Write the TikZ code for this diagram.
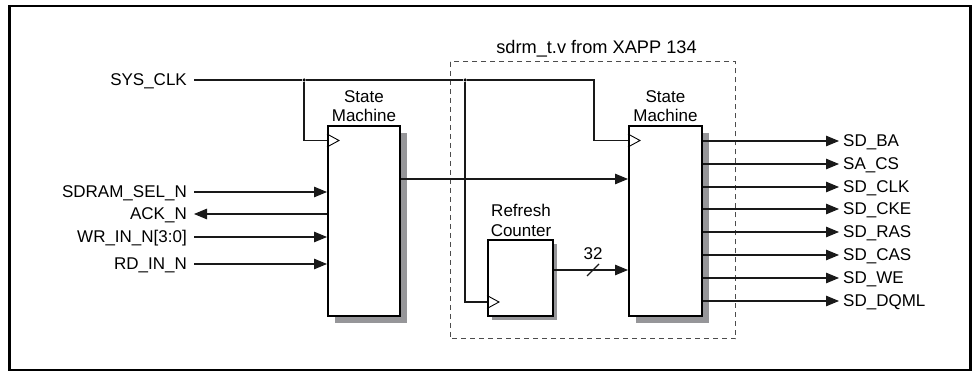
\documentclass[tikz,border=0pt]{standalone}
\usepackage{fontspec}
\setmainfont{Liberation Sans}
\usetikzlibrary{arrows.meta,shadows}
\definecolor{shd}{RGB}{150,150,153}
\begin{document}
\begin{tikzpicture}[x=1pt,y=-1pt,
  lbl/.style={inner sep=0pt, font=\fontsize{17}{20}\selectfont},
  box/.style={draw=black, line width=2pt, fill=white, inner sep=0pt,
    general shadow={fill=shd, shadow xshift=7pt, shadow yshift=-7pt}},
  sbox/.style={draw=black, line width=2pt, fill=white, inner sep=0pt,
    general shadow={fill=shd, shadow xshift=4pt, shadow yshift=-4pt}},
  wire/.style={line width=1.1pt, draw=black!90},
  arr/.style={wire, -{Triangle[length=13pt,width=10.5pt]}},
  clk/.style={line width=0.9pt, draw=black},
  dotn/.style={circle, fill=black, inner sep=0pt, minimum size=3.5pt},
  modbound/.style={line width=1pt, draw=black!70, dash pattern=on 5pt off 4pt}]
\useasboundingbox (0,0) rectangle (972,371);
\draw[line width=2.2pt] (9.5,6) rectangle (970.5,370);

% dashed module boundary
\draw[modbound] (450,62) rectangle (735.5,339);
\node[lbl, anchor=base, font=\fontsize{18.2}{21}\selectfont] (title) at (596.5,54) {sdrm\_t.v from XAPP 134};

% boxes
\node[box, minimum width=72pt, minimum height=190pt] (sm1) at (364,221) {};
\node[box, minimum width=73pt, minimum height=190pt] (sm2) at (665.5,221) {};
\node[sbox, minimum width=65pt, minimum height=76pt] (rc) at (520.5,278) {};

\node[lbl, anchor=base] (sm1a) at (364,103) {State};
\node[lbl, anchor=base] (sm1b) at (364,122) {Machine};
\node[lbl, anchor=base] (sm2a) at (665.5,103) {State};
\node[lbl, anchor=base] (sm2b) at (665.5,122) {Machine};
\node[lbl, anchor=base] (rca) at (521,217) {Refresh};
\node[lbl, anchor=base] (rcb) at (521,237) {Counter};

% clock triangles
\draw[clk] ([yshift=-9pt]sm1.north west) -- ([xshift=12pt,yshift=-15.5pt]sm1.north west) -- ([yshift=-22pt]sm1.north west);
\draw[clk] ([yshift=-9pt]sm2.north west) -- ([xshift=12pt,yshift=-15.5pt]sm2.north west) -- ([yshift=-22pt]sm2.north west);
\draw[clk] ([yshift=21.5pt]rc.south west) -- ([xshift=12pt,yshift=15pt]rc.south west) -- ([yshift=8.5pt]rc.south west);

% SYS_CLK
\coordinate (cS) at (194,80);
\node[lbl, anchor=base east] (tS) at (187,85.5) {SYS\_CLK};
\node[dotn] (j1) at (304,80) {};
\node[dotn] (j2) at (465,80) {};
\coordinate (k2) at (594,80);
\draw[wire] (cS) -- (j1) -- (j2) -- (k2) |- ([yshift=-15.5pt]sm2.north west);
\draw[wire] (j1) |- ([yshift=-15.5pt]sm1.north west);
\draw[wire] (j2) |- ([yshift=15pt]rc.south west);

% inputs
\coordinate (cA) at (194,192);
\coordinate (cB) at (194,214);
\coordinate (cC) at (194,237);
\coordinate (cD) at (194,264);
\node[lbl, anchor=base east] (tA) at (187,197.5) {SDRAM\_SEL\_N};
\node[lbl, anchor=base east] (tB) at (187,219.5) {ACK\_N};
\node[lbl, anchor=base east] (tC) at (187,242.5) {WR\_IN\_N[3:0]};
\node[lbl, anchor=base east] (tD) at (187,269.5) {RD\_IN\_N};
\draw[arr] (cA) -- (cA -| sm1.west);
\draw[arr] (cB -| sm1.west) -- (cB);
\draw[arr] (cC) -- (cC -| sm1.west);
\draw[arr] (cD) -- (cD -| sm1.west);

% SM1 -> SM2
\coordinate (mid) at (400,179);
\draw[arr] (sm1.east |- mid) -- (sm2.west |- mid);

% refresh counter bus
\coordinate (bus) at (553,270);
\draw[arr] (rc.east |- bus) -- (sm2.west |- bus);
\coordinate (s1) at (587,276);
\coordinate (s2) at (599,264);
\draw[wire] (s1) -- (s2);
\node[lbl, anchor=base] (b32) at (593,259.5) {32};

% outputs
\foreach \y/\t/\n in {141/SD\_BA/o1, 164/SA\_CS/o2, 187/SD\_CLK/o3, 209/SD\_CKE/o4, 232/SD\_RAS/o5, 255/SD\_CAS/o6, 278/SD\_WE/o7, 301/SD\_DQML/o8}{
  \coordinate (c\n) at (839,\y);
  \node[lbl, anchor=base west] (t\n) at (843,\y+5.5) {\t};
  \draw[arr] (sm2.east |- c\n) -- (c\n);
}
\end{tikzpicture}
\end{document}
